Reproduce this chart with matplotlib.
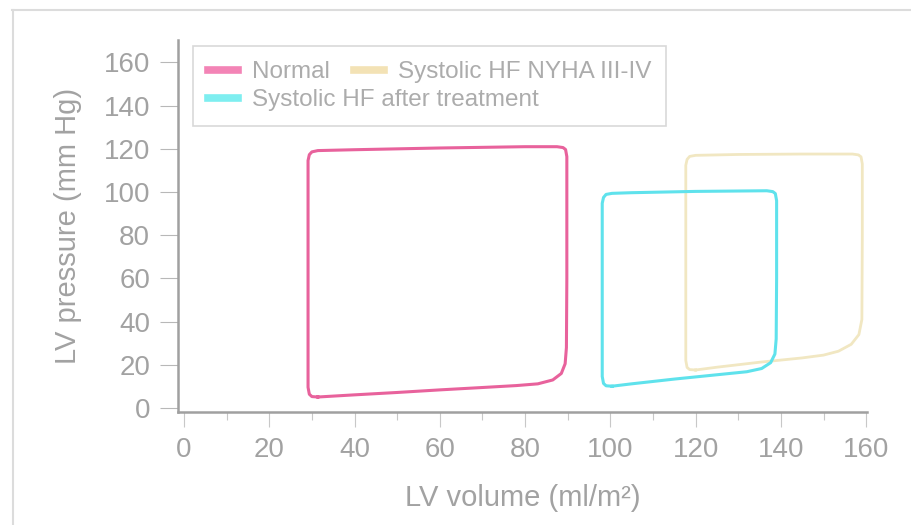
"""
Boucles pression-volume du VG : normal, IC systolique NYHA III-IV,
IC systolique après traitement.
"""

import matplotlib
matplotlib.use("Agg")
import matplotlib.pyplot as plt
import matplotlib.lines as mlines
from matplotlib.ticker import MultipleLocator

# ══════════════════════════════════════════════════════════════
# DONNÉES
# ══════════════════════════════════════════════════════════════

NORMAL_VOL = [31.4, 40, 50, 60, 70, 78, 83, 86.5, 88.5, 89.4, 89.7,
              89.8, 89.8, 89.5, 88.9, 87.5,
              80, 60, 40, 31.4, 30.0, 29.4,
              29.1, 29.1, 29.1, 29.1, 29.4, 30.0, 31.4]
NORMAL_P = [5.1, 6.1, 7.2, 8.4, 9.5, 10.4, 11.2, 13.0, 16.0, 20.5, 28,
            60, 116.4, 119.7, 120.6, 121.0,
            121.0, 120.4, 119.6, 119.2, 118.6, 117.3,
            114.6, 60, 20, 9.6, 6.4, 5.3, 5.1]

TREAT_VOL = [100.4, 105, 115, 125, 132, 135.5, 137.6, 138.6, 138.9,
             139.0, 139.0, 138.7, 138.1, 136.7,
             120, 105, 100.4, 99.0, 98.4,
             98.1, 98.1, 98.1, 98.4, 99.0, 100.4]
TREAT_P = [10.1, 11.2, 13.4, 15.4, 16.8, 18.3, 21.0, 25.0, 32,
           60, 96, 99.3, 100.2, 100.6,
           100.3, 99.7, 99.4, 98.9, 97.5,
           94.8, 60, 14.6, 11.4, 10.3, 10.1]

NYHA_VOL = [120.0, 125, 135, 145, 150, 153.5, 156.5, 158.3, 159.0,
            159.1, 159.1, 158.8, 158.2, 156.8,
            145, 130, 120.0, 118.6, 118.0,
            117.7, 117.7, 117.7, 118.0, 118.6, 120.0]
NYHA_P = [17.6, 18.9, 21.2, 23.2, 24.5, 26.3, 29.5, 34.0, 41,
          80, 113, 116.3, 117.2, 117.6,
          117.6, 117.4, 117.0, 116.5, 115.1,
          112.4, 60, 22, 18.8, 17.8, 17.6]

LABELS = ["Normal", "Systolic HF after treatment", "Systolic HF NYHA III-IV"]

PINK  = "#e8629c"
CYAN  = "#5fe2ec"
BEIGE = "#f1e7c2"
GREY  = "#a2a2a2"
FONT  = "Liberation Sans"

plt.rcParams["font.family"] = [FONT, "DejaVu Sans"]

# ══════════════════════════════════════════════════════════════
# FIGURE
# ══════════════════════════════════════════════════════════════

fig = plt.figure(figsize=(9.11, 5.25), dpi=100)
ax = fig.add_axes([0.1954, 0.2152, 0.7563, 0.7086])

ax.plot(NYHA_VOL, NYHA_P, color=BEIGE, lw=2.0, solid_joinstyle="round")
ax.plot(TREAT_VOL, TREAT_P, color=CYAN, lw=2.2, solid_joinstyle="round")
ax.plot(NORMAL_VOL, NORMAL_P, color=PINK, lw=2.2, solid_joinstyle="round")

ax.set_xlim(-1.4, 160.2)
ax.set_ylim(-1.85, 170.4)

ax.xaxis.set_major_locator(MultipleLocator(20))
ax.xaxis.set_minor_locator(MultipleLocator(10))
ax.yaxis.set_major_locator(MultipleLocator(20))

for s in ["top", "right"]:
    ax.spines[s].set_visible(False)
for s in ["left", "bottom"]:
    ax.spines[s].set_color("#a0a0a0")
    ax.spines[s].set_linewidth(1.8)

ax.tick_params(axis="x", which="major", length=11, width=0.8,
               color="#c8c8c8", pad=7, labelsize=20, labelcolor=GREY)
ax.tick_params(axis="x", which="minor", length=6, width=0.8,
               color="#c8c8c8")
ax.tick_params(axis="y", which="major", length=13, width=0.8,
               color="#b8b8b8", pad=7, labelsize=20, labelcolor=GREY)

ax.set_xlabel("LV volume (ml/m²)", fontsize=21, color=GREY, labelpad=15)
ax.set_ylabel("LV pressure (mm Hg)", fontsize=21, color=GREY, labelpad=16)

# Légende : 2 colonnes, la 2e ramenée juste après "Normal"
handles = [mlines.Line2D([], [], color="#f384b6", lw=5.5),
           mlines.Line2D([], [], color="#7eeef0", lw=5.5),
           mlines.Line2D([], [], color="#f3e2b5", lw=5.5)]
leg = ax.legend(handles, LABELS, ncol=2, loc="upper left",
                bbox_to_anchor=(0.0218, 0.984), borderaxespad=0,
                fontsize=17.5, labelcolor="#acacac",
                handlelength=1.25, handletextpad=0.55,
                columnspacing=-7.6, labelspacing=0.25, borderpad=0.62,
                frameon=True, fancybox=False)
leg.get_frame().set_edgecolor("#cfcfcf")
leg.get_frame().set_linewidth(1.2)

# Bord du scan (haut et gauche)
fig.add_artist(mlines.Line2D([12 / 911, 1], [1 - 10 / 525, 1 - 10 / 525],
                             color="#dcdcdc", lw=1.5))
fig.add_artist(mlines.Line2D([13 / 911, 13 / 911], [0, 1 - 10 / 525],
                             color="#dcdcdc", lw=1.5))

fig.savefig("out.png", dpi=100)
